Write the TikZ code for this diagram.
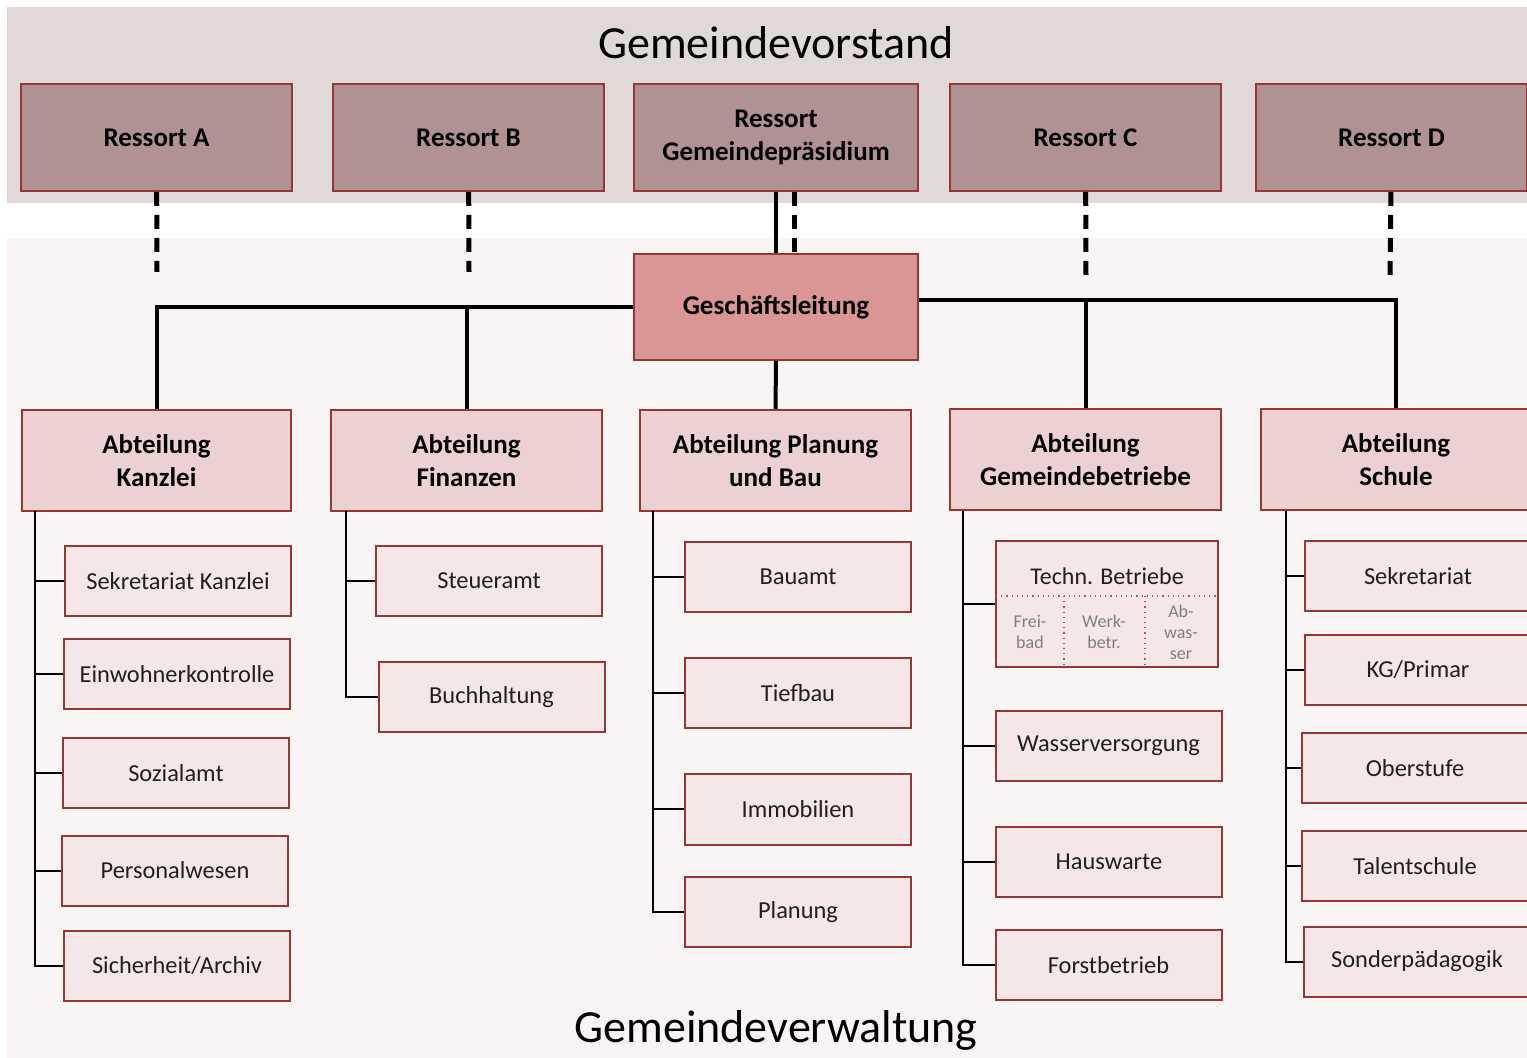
\documentclass[tikz,border=0pt]{standalone}
\usepackage{fontspec}
\setmainfont{Carlito}
\definecolor{bandtop}{HTML}{E1D8D8}
\definecolor{bandlow}{HTML}{F9F5F5}
\definecolor{rim}{HTML}{953735}
\definecolor{resfill}{HTML}{B09292}
\definecolor{glfill}{HTML}{D99694}
\definecolor{abtfill}{HTML}{EDD1D2}
\definecolor{subfill}{HTML}{F5E7E8}
\definecolor{subtext}{HTML}{1F1F1F}
\definecolor{greytext}{HTML}{7F7F7F}
\definecolor{dotred}{HTML}{C0504D}
\begin{document}
\begin{tikzpicture}[x=0.5pt, y=-0.5pt,
  box/.style = {draw=rim, line width=1pt, align=center},
  res/.style = {box, fill=resfill, minimum width=135.5pt, minimum height=53.5pt, font=\fontsize{13.5}{16.5}\selectfont\bfseries},
  abt/.style = {box, fill=abtfill, minimum width=135.5pt, minimum height=50.5pt, font=\fontsize{13.5}{16.5}\selectfont\bfseries},
  sub/.style = {box, fill=subfill, minimum width=113pt, minimum height=35pt, text=subtext, font=\fontsize{12.2}{14}\selectfont},
  tiny/.style = {text=greytext, align=center, font=\fontsize{9}{10.5}\selectfont},
  big/.style = {font=\fontsize{23}{27}\selectfont},
  main/.style = {line width=2pt},
  thin/.style = {line width=1pt},
  dashln/.style = {line width=2.5pt, dash pattern=on 7pt off 4.5pt},
  dotln/.style = {dotred, line width=0.6pt, dotted}]
\clip (0,0) rectangle (1527,1058);
% bands
\fill[bandtop] (7,7) rectangle (1527,203);
\fill[bandlow] (7,238) rectangle (1527,1058);
\node[big] (vst) at (776,43) {Gemeindevorstand};
\node[big] (vw) at (776,1030) {Gemeindeverwaltung};

% Gemeindevorstand
\node[res] (ra) at (156.5,137.5) {Ressort A};
\node[res] (rb) at (468.5,137.5) {Ressort B};
\node[res, minimum width=142pt] (rp) at (776,137.5) {Ressort\\Gemeindepräsidium};
\node[res] (rc) at (1085.5,137.5) {Ressort C};
\node[res] (rd) at (1391.5,137.5) {Ressort D};

\node[box, fill=glfill, minimum width=142pt, minimum height=53pt, font=\fontsize{13.5}{16.5}\selectfont\bfseries] (gl) at (776,307) {Geschäftsleitung};

% Abteilungen
\node[abt, minimum width=134.5pt] (kanz) at (156.5,460.5) {Abteilung\\Kanzlei};
\node[abt] (fin) at (466.5,460.5) {Abteilung\\Finanzen};
\node[abt] (plan) at (775.5,460.5) {Abteilung Planung\\und Bau};
\node[abt] (betr) at (1085.5,459.5) {Abteilung\\Gemeindebetriebe};
\node[abt] (schu) at (1396,459.5) {Abteilung\\Schule};

% Ressorts to Geschaeftsleitung
\coordinate (ea) at (157,272);
\coordinate (eb) at (469,272);
\coordinate (ec) at (1086,277);
\coordinate (ed) at (1390,276);
\draw[dashln] (ra) -- (ea);
\draw[dashln] (rb) -- (eb);
\draw[dashln] (rc) -- (ec);
\draw[dashln] (rd) -- (ed);
\draw[main] (rp) -- (gl);
\draw[dashln] ([xshift=9pt]rp.south) -- ([xshift=9pt]gl.north);

% Geschaeftsleitung to Abteilungen
\coordinate (gr) at ([yshift=3.5pt]gl.east);
\draw[main] (gl.west) -| (kanz.north);
\draw[main] (gl.west -| fin.north) -- (fin.north);
\draw[main] (gl.south) -- (plan.north);
\draw[main] (gr) -| (schu.north);
\draw[main] (gr -| betr.north) -- (betr.north);

% Kanzlei
\node[sub] (k1) at (178,581) {Sekretariat Kanzlei};
\node[sub] (k2) at (177,674) {Einwohnerkontrolle};
\node[sub] (k3) at (176,773.5) {Sozialamt};
\node[sub] (k4) at (175,870.5) {Personalwesen};
\node[sub] (k5) at (177,966) {Sicherheit/Archiv};
\coordinate (kz) at (35,511);
\foreach \n in {k1,k2,k3,k4,k5}
  \draw[thin] (kz) |- (\n.west);

% Finanzen
\node[sub] (f1) at (489,581) {Steueramt};
\node[sub] (f2) at (491.5,697) {Buchhaltung};
\coordinate (fz) at (346,511);
\foreach \n in {f1,f2}
  \draw[thin] (fz) |- (\n.west);

% Planung und Bau
\node[sub] (p1) at (798,577) {Bauamt};
\node[sub] (p2) at (798,693) {Tiefbau};
\node[sub] (p3) at (798,809.5) {Immobilien};
\node[sub] (p4) at (798,912) {Planung};
\coordinate (pz) at (653,511);
\foreach \n in {p1,p2,p3,p4}
  \draw[thin] (pz) |- (\n.west);

% Gemeindebetriebe
\node[sub, minimum width=111pt, minimum height=63pt] (b1) at (1107,604) {};
\node[text=subtext, font=\fontsize{12}{14}\selectfont] (b1t) at (1107,576) {Techn. Betriebe};
\draw[dotln] (996,596) -- (1218,596);
\draw[dotln] (1064,596) -- (1064,667);
\draw[dotln] (1145,596) -- (1145,667);
\node[tiny] (fb) at (1030,632) {Frei-\\bad};
\node[tiny] (wb) at (1104,632) {Werk-\\betr.};
\node[tiny] (aw) at (1181,632) {Ab-\\was-\\ser};
\node[sub] (b2) at (1108.5,746) {Wasserversorgung};
\node[sub] (b3) at (1109,862) {Hauswarte};
\node[sub] (b4) at (1108.5,965) {Forstbetrieb};
\coordinate (bz) at (963,511);
\foreach \n in {b1,b2,b3,b4}
  \draw[thin] (bz) |- (\n.west);

% Schule
\node[sub] (s1) at (1418,576) {Sekretariat};
\node[sub] (s2) at (1418,670) {KG/Primar};
\node[sub] (s3) at (1415,768.5) {Oberstufe};
\node[sub] (s4) at (1415,866) {Talentschule};
\node[sub] (s5) at (1417,961.5) {Sonderpädagogik};
\coordinate (sz) at (1286,511);
\foreach \n in {s1,s2,s3,s4,s5}
  \draw[thin] (sz) |- (\n.west);
\end{tikzpicture}
\end{document}
